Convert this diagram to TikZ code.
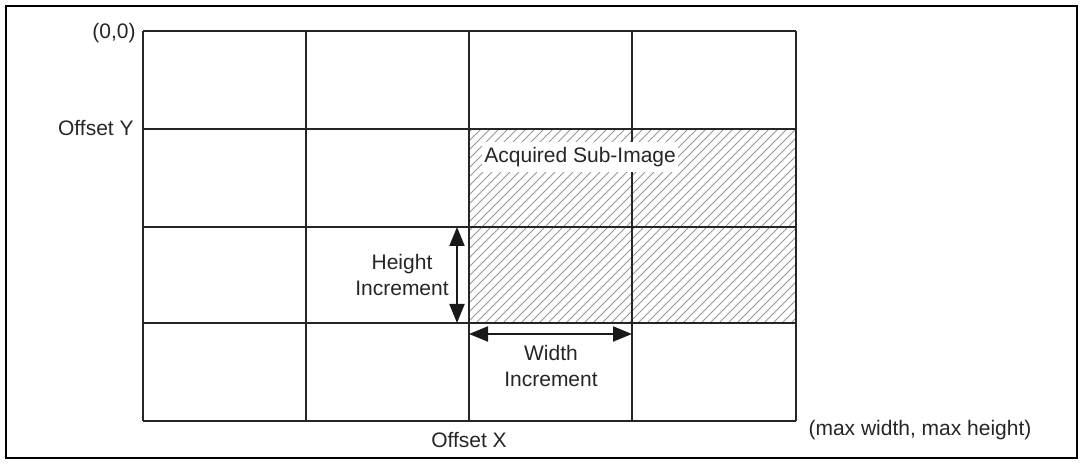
\documentclass[tikz,border=0pt]{standalone}
\usepackage{fontspec}
\setmainfont{Liberation Sans}
\usetikzlibrary{arrows.meta}
\begin{document}
\begin{tikzpicture}[x=0.5pt,y=-0.5pt,
  gridline/.style={line width=0.75pt, draw=black!85},
  lbl/.style={font=\fontsize{10.5}{13}\selectfont, text=black!85, inner sep=0pt},
  dimarrow/.style={line width=1pt, draw=black!90, {Triangle[length=9.5pt,width=7.5pt]}-{Triangle[length=9.5pt,width=7.5pt]}},
  hatch/.style={draw=black!40, line width=0.4pt}]
\useasboundingbox (0,0) rectangle (1083,464);
\draw[line width=1.3pt] (6,6) rectangle (1077,458);
% hatching of the acquired sub-image
\begin{scope}
\clip (469,129) rectangle (796,323);
\foreach \k in {0,...,60} \draw[hatch] ({269+\k*9},323) -- ++(200,-200);
\end{scope}
% grid
\foreach \x in {143,306,469,632,796} \draw[gridline] (\x,31) -- (\x,421);
\foreach \y in {31,129,227,323,421} \draw[gridline] (143,\y) -- (796,\y);
% label of sub-image
\node[lbl, anchor=west, fill=white, inner xsep=1pt, inner ysep=2.5pt] (acq) at (482,157) {Acquired Sub-Image};
% dimension arrows
\coordinate (ha) at (457,227);
\coordinate (hb) at (457,323);
\coordinate (wa) at (469,334);
\coordinate (wb) at (632,334);
\draw[dimarrow] (ha) -- (hb);
\draw[dimarrow] (wa) -- (wb);
% texts
\node[lbl, anchor=east] (origin) at (136,33) {(0,0)};
\node[lbl, anchor=east] (offy) at (134,128) {Offset Y};
\node[lbl, align=center] (hinc) at (402,275) {Height\\Increment};
\node[lbl, align=center] (winc) at (551,366) {Width\\Increment};
\node[lbl] (offx) at (469,440) {Offset X};
\node[lbl] (maxwh) at (920,430) {(max width, max height)};
\end{tikzpicture}
\end{document}
